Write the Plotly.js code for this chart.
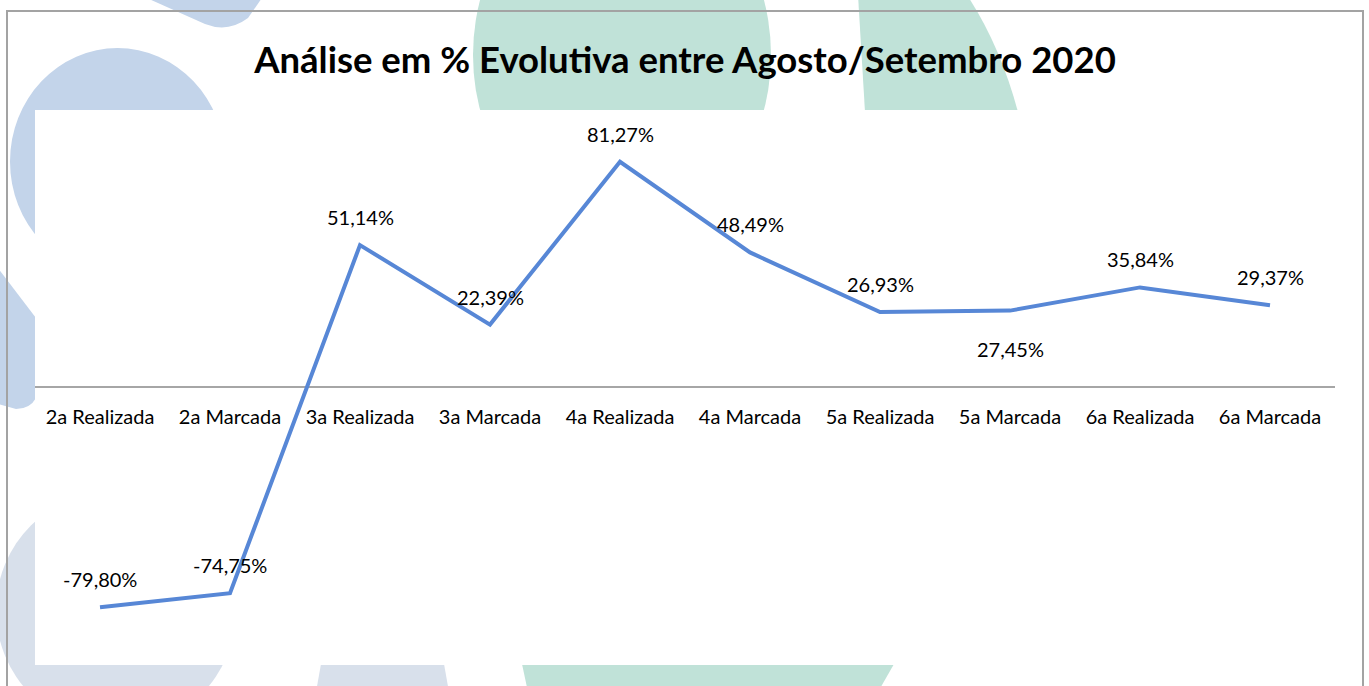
<!DOCTYPE html>
<html>
<head>
<meta charset="utf-8">
<script src="https://cdn.plot.ly/plotly-3.0.1.min.js"></script>
<style>html,body{margin:0;padding:0;background:#fff;}#chart{width:1369px;height:686px;}</style>
</head>
<body>
<div id="chart"></div>
<script>
const categories = ["2a Realizada","2a Marcada","3a Realizada","3a Marcada","4a Realizada","4a Marcada","5a Realizada","5a Marcada","6a Realizada","6a Marcada"];
const values = [-79.80, -74.75, 51.14, 22.39, 81.27, 48.49, 26.93, 27.45, 35.84, 29.37];
const labelBelow = [false,false,false,false,false,false,false,true,false,false];
const titleText = "Análise em % Evolutiva entre Agosto/Setembro 2020";

const W = 1369, H = 686;
const M = {l:35, r:34, t:110, b:23};
const PW = W - M.l - M.r, PH = H - M.t - M.b;
const px = v => (v - M.l) / PW;
const py = v => (H - M.b - v) / PH;

function path(pts, close) {
  let s = "";
  pts.forEach((p, i) => {
    if (p[0] === "Q") s += " Q" + px(p[1]) + "," + py(p[2]) + " " + px(p[3]) + "," + py(p[4]);
    else s += (i === 0 ? "M" : " L") + px(p[0]) + "," + py(p[1]);
  });
  return s + (close ? " Z" : "");
}

const blue = "#c3d4ea", greyBlue = "#d8e0eb", green = "#c0e2d8";
const deco = [
  {type:"path", path: path([[140,-5],[205,24],["Q",228,33,248,18],[264,-5]], true), fillcolor: blue},
  {type:"circle", x0: px(10), x1: px(225), y0: py(48), y1: py(275), fillcolor: blue},
  {type:"path", path: path([[-2,268],[36,318],[36,398],["Q",30,409,16,409],[-2,404]], true), fillcolor: blue},
  {type:"circle", x0: px(-4), x1: px(236), y0: py(490), y1: py(730), fillcolor: greyBlue},
  {type:"path", path: path([[321,664],[444,664],[449,692],[316,692]], true), fillcolor: greyBlue},
  {type:"path", path: path([[522,664],[894,664],[878,692],[528,692]], true), fillcolor: green},
  {type:"circle", x0: px(473), x1: px(771), y0: py(-126), y1: py(236), fillcolor: green},
  {type:"path", path: path([[858,-5],[967,-5],["Q",1000,45,1018,112],[865,112]], true), fillcolor: green}
].map(s => Object.assign({xref:"paper", yref:"paper", layer:"below", line:{width:0}}, s));

const shapes = deco.concat([
  {type:"rect", xref:"paper", yref:"paper", layer:"below", x0: px(35), x1: px(1363), y0: py(110), y1: py(665), fillcolor:"#ffffff", line:{width:0}},
  {type:"rect", xref:"paper", yref:"paper", layer:"above", x0: px(7), x1: px(1363), y0: py(11), y1: py(720), fillcolor:"rgba(0,0,0,0)", line:{color:"#a3a3a3", width:2}}
]);

const FONT = "Lato, 'Open Sans', sans-serif";
const fmt = v => v.toFixed(2).replace(".", ",") + "%";
const annotations = categories.map((c, i) => ({
  x: c, y: values[i], xref:"x", yref:"y",
  text: fmt(values[i]), showarrow:false,
  yanchor:"middle", xanchor:"center",
  yshift: labelBelow[i] ? -38 : 28,
  font:{family:FONT, size:20, color:"#000"}
}));

const trace = {
  x: categories, y: values, type:"scatter", mode:"lines",
  line:{color:"#5787d6", width:4, shape:"linear"},
  hoverinfo:"skip", cliponaxis:false
};

const layout = {
  width: W, height: H,
  margin: M,
  paper_bgcolor:"rgba(0,0,0,0)", plot_bgcolor:"rgba(0,0,0,0)",
  showlegend:false,
  title:{text:"<b>"+titleText+"</b>", x:0.5, xref:"paper", xanchor:"center", y:1-60/H, yref:"container", yanchor:"middle",
    font:{family:FONT, size:36.5, color:"#000"}},
  xaxis:{type:"category", categoryorder:"array", categoryarray:categories, range:[-0.5,9.5],
    anchor:"free", position:0.5, showline:false, showgrid:false, zeroline:false, ticks:"",
    ticklabelstandoff:16,
    tickfont:{family:FONT, size:20, color:"#000"}, fixedrange:true},
  yaxis:{range:[-100,100], showgrid:false, showticklabels:false, ticks:"", showline:false,
    zeroline:true, zerolinecolor:"#a6a6a6", zerolinewidth:2, fixedrange:true},
  shapes: shapes,
  annotations: annotations
};

Plotly.newPlot("chart", [trace], layout, {displayModeBar:false, staticPlot:true});
</script>
</body>
</html>
